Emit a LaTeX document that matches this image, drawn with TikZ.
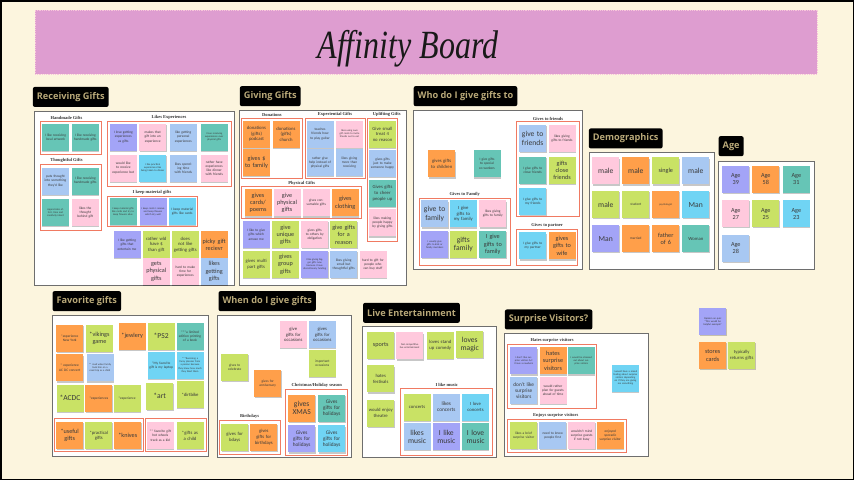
\documentclass[tikz,border=0pt]{standalone}
\usepackage{fontspec}
\setmainfont{Carlito}
\newfontfamily\headfont{Open Sans}
\newfontfamily\labelfont{Liberation Serif}
\usepackage{graphicx}
\usepackage{xcolor}
\usetikzlibrary{positioning, fit, shadows}
\definecolor{BoardCream}{HTML}{FCF5DE}
\definecolor{BannerPink}{HTML}{DE9DD0}
\definecolor{BannerEdge}{HTML}{F7C6DA}
\definecolor{HeadTan}{HTML}{B8A878}
\definecolor{PanelGray}{HTML}{6E6E6E}
\definecolor{GroupRed}{HTML}{F07A62}
\definecolor{NoteText}{HTML}{3A3A3A}
\definecolor{StickyOrange}{HTML}{FF9F4A}
\definecolor{StickyLime}{HTML}{C9E265}
\definecolor{StickyPink}{HTML}{FFC9DD}
\definecolor{StickyBlue}{HTML}{A8C8F2}
\definecolor{StickyPurple}{HTML}{A3A4F7}
\definecolor{StickyTeal}{HTML}{66C5B6}
\definecolor{StickyCyan}{HTML}{70D4F4}

\begin{document}
\begin{tikzpicture}[
  x=1pt, y=-1pt,
  panel/.style={draw=PanelGray, fill=white, line width=0.7pt, inner sep=0pt},
  grp/.style={draw=GroupRed, line width=0.8pt, inner sep=0pt},
  grplabel/.style={font=\labelfont\bfseries\fontsize{4.5}{5}\selectfont, text=black!80, inner sep=0.5pt},
  header/.style={fill=black, rounded corners=2pt, text=HeadTan,
                 font=\headfont\bfseries\fontsize{9.2}{11}\selectfont,
                 minimum height=20pt, inner xsep=4pt, anchor=south west},
  sticky/.style={rectangle, minimum width=27pt, minimum height=27pt,
                 text width=24pt, inner sep=1.5pt, align=center, text=NoteText,
                 font=\fontsize{3.5}{4.1}\selectfont,
                 drop shadow={shadow xshift=0.3pt, shadow yshift=-1.2pt, opacity=0.22, fill=black}},
  sorange/.style={sticky, fill=StickyOrange},
  slime/.style={sticky, fill=StickyLime},
  spink/.style={sticky, fill=StickyPink},
  sblue/.style={sticky, fill=StickyBlue},
  spurple/.style={sticky, fill=StickyPurple},
  steal/.style={sticky, fill=StickyTeal},
  scyan/.style={sticky, fill=StickyCyan},
  ntiny/.style={font=\fontsize{2.6}{3.1}\selectfont},
  nmed/.style={font=\fontsize{4.7}{5.6}\selectfont},
  nlarge/.style={font=\fontsize{5.3}{6.2}\selectfont},
  nbig/.style={font=\fontsize{6.2}{7.2}\selectfont},
  nhuge/.style={font=\fontsize{7.6}{8.6}\selectfont},
]
\useasboundingbox (0,0) rectangle (854,480);
\fill[BoardCream] (0,0) rectangle (854,480);
\draw[black, line width=1.5pt] (0.75,0.75) rectangle (853.25,479.25);

\node[fill=BannerPink, draw=BannerEdge, densely dotted, line width=0.8pt, inner sep=0pt,
      fit={(35,10) (817,74)}] (banner) {};
\node[anchor=base, font=\labelfont\itshape\fontsize{40}{42}\selectfont, text=black!90] (title)
      at (408,58) {\scalebox{0.8}[1]{Affinity Board}};

\node[panel, fit={(34,111) (234,285)}]       (recvpanel) {};
\node[panel, fit={(239,110) (406.7,285)}]    (givepanel) {};
\node[panel, fit={(413.3,110) (582.7,269)}]  (whopanel)  {};
\node[panel, fit={(589,152.3) (714,269)}]    (demopanel) {};
\node[panel, fit={(718.3,161) (814.3,269)}]  (agepanel)  {};
\node[panel, fit={(52.7,315) (208.3,456.7)}] (favpanel)  {};
\node[panel, fit={(217.7,315) (351.7,457.3)}] (whenpanel) {};
\node[panel, fit={(362.7,326.7) (496.7,457.3)}] (livepanel) {};
\node[panel, fit={(504,333.3) (648.3,456.7)}] (surppanel) {};

\node[header, above right=3.5pt and -1pt of recvpanel.north west] (recvhead) {Receiving Gifts};
\node[header, above right=3.3pt and 1pt of givepanel.north west]  (givehead) {Giving Gifts};
\node[header, above right=3.3pt and 0.5pt of whopanel.north west] (whohead)  {Who do I give gifts to};
\node[header, above right=3.3pt and 0pt of demopanel.north west]  (demohead) {Demographics};
\node[header, above right=4.3pt and 0.5pt of agepanel.north west] (agehead)  {Age};
\node[header, above right=3.3pt and 0pt of favpanel.north west]   (favhead)  {Favorite gifts};
\node[header, above right=3.3pt and 1pt of whenpanel.north west]  (whenhead) {When do I give gifts};
\node[header, above right=3.3pt and 0.5pt of livepanel.north west] (livehead) {Live Entertainment};
\node[header, above right=3.3pt and 1pt of surppanel.north west]  (surphead) {Surprise Visitors?};

\node[grp, fit={(40,121) (101,154)}]      (handbox)    {};
\node[grp, fit={(40,164) (101,230)}]      (thoughtbox) {};
\node[grp, fit={(107,121) (231,186)}]     (expbox)     {};
\node[grp, fit={(107,196) (197,226)}]     (keepbox)    {};
\node[grp, fit={(241,118.3) (302.7,178.3)}] (donbox)   {};
\node[grp, fit={(305,118.3) (365,178.3)}] (experbox)   {};
\node[grp, fit={(367.7,118.3) (397.7,241)}] (upbox)    {};
\node[grp, fit={(241.7,186.7) (361.7,218.3)}] (physbox) {};
\node[grp, fit={(516.7,121.7) (579.3,216.7)}] (friendbox) {};
\node[grp, fit={(419.3,198.3) (510,265)}] (familybox)  {};
\node[grp, fit={(516.7,229) (577.7,265)}] (partnerbox) {};
\node[grp, fit={(54.7,418.3) (143.3,451.7)}] (usefulbox) {};
\node[grp, fit={(145,418.3) (206,451.7)}] (childbox)   {};
\node[grp, fit={(285.7,389.3) (347.7,455)}] (xmasbox)  {};
\node[grp, fit={(219,420) (280,454)}]     (bdaybox)    {};
\node[grp, fit={(400.7,388.3) (492.7,455)}] (musicbox) {};
\node[grp, fit={(507.3,344.3) (596.7,408.3)}] (hatebox) {};
\node[grp, fit={(507.3,419) (626,452.3)}] (enjoybox)   {};

\node[grplabel, above=0.3pt of handbox, xshift=-4pt]    (handlbl)    {Handmade Gifts};
\node[grplabel, above=0.3pt of thoughtbox, xshift=-4pt] (thoughtlbl) {Thoughtful Gifts};
\node[grplabel, above=0.3pt of expbox]      (explbl)     {Likes Experiences};
\node[grplabel, above=0.3pt of keepbox]     (keeplbl)    {I keep material gifts};
\node[grplabel, above=0.3pt of donbox]      (donlbl)     {Donations};
\node[grplabel, above=0.3pt of experbox]    (experlbl)   {Experiential Gifts};
\node[grplabel, above=0.3pt of upbox, xshift=4pt] (uplbl) {Uplifting Gifts};
\node[grplabel, above=0.3pt of physbox]     (physlbl)    {Physical Gifts};
\node[grplabel, above=0.3pt of friendbox]   (friendlbl)  {Gives to friends};
\node[grplabel, above=0.3pt of familybox]   (familylbl)  {Gives to Family};
\node[grplabel, above=0.3pt of partnerbox]  (partnerlbl) {Gives to partner};
\node[grplabel, above=0.3pt of xmasbox]     (xmaslbl)    {Christmas/Holiday season};
\node[grplabel, above=0.3pt of bdaybox]     (bdaylbl)    {Birthdays};
\node[grplabel, above=0.3pt of musicbox]    (musiclbl)   {I like music};
\node[grplabel, above=0.3pt of hatebox]     (hatelbl)    {Hates surprise visitors};
\node[grplabel, above=0.3pt of enjoybox, xshift=-11pt] (enjoylbl) {Enjoys surprise visitors};

\node[steal] (recv1) at (55.5,137.7) {I like receiving local artwork};
\node[steal] (recv2) at (85.3,137.7) {I like receiving handmade gifts};
\node[sblue] (recv3) at (55.5,181) {puts thought into something they'd like};
\node[steal] (recv4) at (85.3,181) {I like receiving handmade gifts};
\node[steal, ntiny] (recv5) at (55.5,212.5) {Appreciates effort, time and creativity intent};
\node[spink] (recv6) at (85.3,212.5) {likes the thought behind gift};
\node[spurple] (exp1) at (123.3,137) {I love getting experiences as gifts};
\node[spink] (exp2) at (152.7,137) {makes that gift into an experience};
\node[sblue] (exp3) at (183.3,137) {like getting personal experiences};
\node[steal, ntiny] (exp4) at (214.2,137) {I love receiving experiences over physical gifts};
\node[spink] (exp5) at (123.3,168) {would like to receive experience but};
\node[scyan, ntiny] (exp6) at (152.7,168) {I like practical experiences like being taken to dinner};
\node[sblue] (exp7) at (183.3,168) {likes spending time with friends};
\node[spink] (exp8) at (214.2,168) {rather have experiences like dinner with friends};
\node[steal, ntiny] (keep1) at (123,211.7) {I keep material gifts like cards and try to keep flowers alive};
\node[spurple, ntiny] (keep2) at (153,211.7) {I keep cards I receive and keep flowers which dry well};
\node[scyan] (keep3) at (182.2,211.7) {I keep material gifts like cards};
\node[spurple] (recv7) at (127,244.7) {I like getting gifts that entertain me};
\node[slime, nmed] (recv8) at (156.3,244.7) {rather wld have \$ than gift};
\node[slime, nmed] (recv9) at (185.3,244.7) {does not like getting gifts};
\node[sorange, nbig] (recv10) at (214.2,244.7) {picky gift recievr};
\node[spink, nbig] (recv11) at (156.3,271.5) {gets physical gifts};
\node[spink] (recv12) at (185.3,271.5) {hard to make time for experiences};
\node[sblue, nbig] (recv13) at (214.2,271.5) {likes getting gifts};

\node[sorange, nmed] (don1) at (256.5,134) {donations (gifts) podcast};
\node[sorange, nmed] (don2) at (286,134) {donations (gifts) church};
\node[sorange, nbig] (don3) at (256.5,162.3) {gives \$ to family};
\node[sblue] (exper1) at (320,134) {teaches friends how to play guitar};
\node[spink, ntiny] (exper2) at (349.5,134) {likes using own gift cards to invite friends out to eat};
\node[sblue] (exper3) at (320,162.3) {rather give help instead of physical gifts};
\node[sblue] (exper4) at (349.5,162.3) {likes giving more than receiving};
\node[slime, nmed] (up1) at (382.5,134) {Give small treat 4 no reason};
\node[sblue] (up2) at (382.5,163.3) {gives gifts just to make someone happy};
\node[steal, nmed] (up3) at (382.5,193.3) {Gives gifts to cheer people up};
\node[spink] (up4) at (382.5,222.8) {likes making people happy by giving gifts};
\node[sorange, nbig] (phys1) at (258,202.8) {gives cards/ poems};
\node[spink, nbig] (phys2) at (287,202.8) {give physical gifts};
\node[spink] (phys3) at (316.3,202.8) {gives consumable gifts};
\node[sorange, nbig] (phys4) at (345.3,202.8) {gives clothing};
\node[spurple] (give1) at (256.2,234.7) {I like to give gifts which amuse me};
\node[slime, nbig] (give2) at (285.5,234.7) {give unique gifts};
\node[spink] (give3) at (314.7,234.7) {gives gifts to others by obligation};
\node[slime, nbig] (give4) at (343.7,234.7) {give gifts for a reason};
\node[slime, nmed] (give5) at (256.2,264.2) {gives multi part gifts};
\node[slime, nbig] (give6) at (285.5,264.2) {gives group gifts};
\node[spurple, ntiny] (give7) at (314.7,264.2) {I like giving bigger gifts now because I have discretionary funding};
\node[sblue] (give8) at (343.7,264.2) {likes giving small but thoughtful gifts};
\node[spink] (give9) at (373,264.2) {hard to gift for people who can buy stuff};

\node[sorange, nmed] (who1) at (441.7,163.8) {gives gifts to children};
\node[steal] (who2) at (487,163.8) {I give gifts to special co-workers};
\node[sblue, nhuge] (friend1) at (532.7,138.3) {give to friends};
\node[spink] (friend2) at (562,138.3) {likes giving gifts to friends};
\node[steal] (friend3) at (532.7,170.3) {I give gifts to close friends};
\node[slime, nbig] (friend4) at (562,170.3) {gifts close friends};
\node[scyan] (friend5) at (532.7,201.3) {I give gifts to my friends};
\node[sblue, nhuge] (family1) at (434.7,213.8) {give to family};
\node[scyan, nmed] (family2) at (463.3,213.8) {I give gifts to my family};
\node[spink] (family3) at (492.8,213.8) {likes giving gifts to family};
\node[spurple, ntiny] (family4) at (434.7,244.5) {I usually give gifts to kids or family members};
\node[slime, nhuge] (family5) at (463.3,244.5) {gifts family};
\node[steal, nbig] (family6) at (492.8,244.5) {I give gifts to family};
\node[scyan] (partner1) at (532.7,245.8) {I give gifts to my partner};
\node[sorange, nbig] (partner2) at (562,245.8) {gives gifts to wife};

\node[spink, nhuge] (demo1) at (605.8,170.8) {male};
\node[sorange, nhuge] (demo2) at (635.8,170.8) {male};
\node[slime, nbig] (demo3) at (665.8,170.8) {single};
\node[sblue, nhuge] (demo4) at (695.8,170.8) {male};
\node[slime, nhuge] (demo5) at (605.8,204.7) {male};
\node[slime] (demo6) at (635.8,204.7) {student};
\node[sorange, ntiny] (demo7) at (665.8,204.7) {psychologist};
\node[scyan, nhuge] (demo8) at (695.8,204.7) {Man};
\node[spurple, nhuge] (demo9) at (605.8,238.7) {Man};
\node[sorange] (demo10) at (635.8,238.7) {married};
\node[sorange, nbig] (demo11) at (665.8,238.7) {father of 6};
\node[steal, nmed] (demo12) at (695.8,238.7) {Woman};

\node[spurple, nbig] (age1) at (735.8,179.2) {Age\\39};
\node[sorange, nbig] (age2) at (765.8,179.2) {Age\\58};
\node[steal, nbig] (age3) at (796.3,179.2) {Age\\31};
\node[spink, nbig] (age4) at (735.8,213.7) {Age\\27};
\node[slime, nbig] (age5) at (765.8,213.7) {Age\\25};
\node[scyan, nbig] (age6) at (796.3,213.7) {Age\\23};
\node[sblue, nbig] (age7) at (735.8,248) {Age\\28};

\node[sorange] (fav1) at (69.7,338) {*experience New York};
\node[slime, nbig] (fav2) at (99.5,338) {*vikings game};
\node[sorange, nbig] (fav3) at (132.2,336.2) {*jewlery};
\node[slime, nhuge] (fav4) at (161.2,336.2) {*PS2};
\node[steal] (fav5) at (190,336.2) {***a limited edition printing of a book};
\node[sorange] (fav6) at (69.7,367.8) {* experience AC DC concert};
\node[sblue, ntiny] (fav7) at (100,367.8) {** road when family took him on a road trip as a child};
\node[scyan] (fav8) at (161.2,365.2) {*My favorite gift is my laptop};
\node[scyan, ntiny] (fav9) at (190,365.2) {***Receiving a fancy planner from a person because they knew how much they liked them};
\node[slime, nhuge] (fav10) at (70,398.3) {*ACDC};
\node[sorange] (fav11) at (98.8,398.3) {*experiences};
\node[slime] (fav12) at (127,398.3) {*experience};
\node[slime, nhuge] (fav13) at (159.7,396.2) {*art};
\node[slime, nmed] (fav14) at (190,394.5) {*dirtbike};
\node[sorange, nbig] (fav15) at (69.7,435.7) {*useful gifts};
\node[slime, nmed] (fav16) at (98.8,435.7) {*practical gifts};
\node[sorange, nbig] (fav17) at (127.8,435.7) {*knives};
\node[spink] (fav18) at (160.3,435.7) {** favorite gift hot wheels track as a kid};
\node[slime, nmed] (fav19) at (190,435.7) {*gifts as a child};

\node[spink, nmed] (when1) at (293.3,334.7) {give gifts for occasions};
\node[sblue, nmed] (when2) at (322.3,334.7) {gives gifts for occasions};
\node[slime] (when3) at (322.3,363.7) {important occasions};
\node[slime] (when4) at (234.7,367.3) {gives to celebrate};
\node[sorange] (when5) at (267.7,383.7) {gives for anniversary};
\node[sorange, nhuge] (xmas1) at (301.7,408) {gives XMAS};
\node[steal, nlarge] (xmas2) at (331.7,408) {Gives gifts for holidays};
\node[spurple, nlarge] (xmas3) at (301.7,438.8) {Gives gifts for holidays};
\node[scyan, nlarge] (xmas4) at (331.7,438.8) {Gives gifts for holidays};
\node[slime, nmed] (bday1) at (234.7,437.5) {gives for bdays};
\node[sorange, nmed] (bday2) at (263.8,437.2) {gives gifts for birthdays};

\node[slime, nbig] (live1) at (380.7,345.5) {sports};
\node[spink, ntiny] (live2) at (409.7,345.8) {feel competitive live entertainment};
\node[slime, nmed] (live3) at (440.3,345.5) {loves stand up comedy};
\node[slime, nhuge] (live4) at (469.7,344.5) {loves magic};
\node[slime, nmed] (live5) at (380.7,378.8) {hates festivals};
\node[slime, nmed] (live6) at (380.7,413) {would enjoy theatre};
\node[slime, nmed] (music1) at (417,407) {concerts};
\node[sblue, nlarge] (music2) at (446.3,407) {likes concerts};
\node[scyan, nmed] (music3) at (475.5,407) {I love concerts};
\node[sblue, nhuge] (music4) at (417,436.7) {likes music};
\node[spurple, nhuge] (music5) at (446.3,436.7) {I like music};
\node[steal, nhuge] (music6) at (475.5,436.7) {I love music};

\node[spurple, ntiny] (hate1) at (523.7,360.8) {I don't like surprise visitors b/c I have a newborn};
\node[sorange, nbig] (hate2) at (553,360.8) {hates surprise visitors};
\node[steal, ntiny] (hate3) at (581.3,360.8) {I would be stressed out about surprise visitors};
\node[sblue, nlarge] (hate4) at (523.7,390.5) {don't like surprise visitors};
\node[spink] (hate5) at (553,390.5) {would rather plan for guests ahead of time};
\node[scyan, ntiny] (surp1) at (625.5,378) {I would have a mixed feeling about surprise visitors depending on if they are giving me something};
\node[slime] (enjoy1) at (523.7,435.3) {likes a brief surprise visitor};
\node[sblue] (enjoy2) at (552.7,435.3) {need to know people first};
\node[spink] (enjoy3) at (581.7,435.3) {wouldn't mind surprise guests if not busy};
\node[sorange] (enjoy4) at (610.3,435.3) {enjoyed sporadic surprise visitor};

\node[spurple, ntiny] (loose1) at (712.7,321.7) {Opinion on quiz ``This would be helpful example''};
\node[sorange, nbig] (loose2) at (712.7,355.5) {stores cards};
\node[slime, nmed] (loose3) at (741.7,355.5) {typically returns gifts};
\end{tikzpicture}
\end{document}
